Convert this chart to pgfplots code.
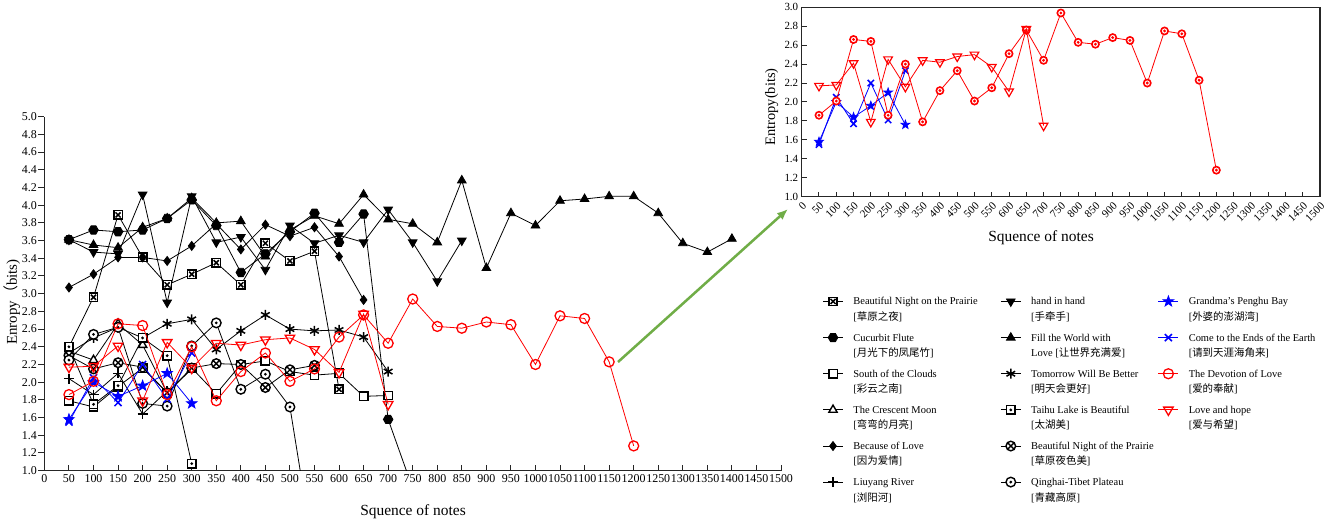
\documentclass[border=0pt]{standalone}
\usepackage{fontspec}
\setmainfont{Liberation Serif}
\newfontfamily\cjk{Noto Sans CJK SC}
\usepackage{pgfplots}
\usepackage{pgfplotstable}
\pgfplotsset{compat=1.18}
\usetikzlibrary{arrows.meta,plotmarks}
\newcommand\zh[1]{[{\cjk #1}]}
\newcommand\ent[3]{\parbox[t]{#1}{\raggedright\mbox{#2}\\ \mbox{#3}}}

\pgfdeclareplotmark{boxx}{%
  \pgfpathrectangle{\pgfqpoint{-\pgfplotmarksize}{-\pgfplotmarksize}}{\pgfqpoint{2\pgfplotmarksize}{2\pgfplotmarksize}}%
  \pgfusepathqfillstroke
  \pgfpathmoveto{\pgfqpoint{-0.6\pgfplotmarksize}{-0.6\pgfplotmarksize}}%
  \pgfpathlineto{\pgfqpoint{0.6\pgfplotmarksize}{0.6\pgfplotmarksize}}%
  \pgfpathmoveto{\pgfqpoint{-0.6\pgfplotmarksize}{0.6\pgfplotmarksize}}%
  \pgfpathlineto{\pgfqpoint{0.6\pgfplotmarksize}{-0.6\pgfplotmarksize}}%
  \pgfusepathqstroke}
\pgfdeclareplotmark{boxdot}{%
  \pgfpathrectangle{\pgfqpoint{-\pgfplotmarksize}{-\pgfplotmarksize}}{\pgfqpoint{2\pgfplotmarksize}{2\pgfplotmarksize}}%
  \pgfusepathqfillstroke
  \pgfpathcircle{\pgfpointorigin}{0.12\pgfplotmarksize}%
  \pgfusepathqstroke}
\pgfdeclareplotmark{odot}{%
  \pgfpathcircle{\pgfpointorigin}{\pgfplotmarksize}%
  \pgfusepathqfillstroke
  \pgfpathcircle{\pgfpointorigin}{0.12\pgfplotmarksize}%
  \pgfusepathqstroke}
\pgfdeclareplotmark{hexagon*}{%
  \pgfpathmoveto{\pgfqpointpolar{0}{\pgfplotmarksize}}%
  \pgfpathlineto{\pgfqpointpolar{60}{\pgfplotmarksize}}%
  \pgfpathlineto{\pgfqpointpolar{120}{\pgfplotmarksize}}%
  \pgfpathlineto{\pgfqpointpolar{180}{\pgfplotmarksize}}%
  \pgfpathlineto{\pgfqpointpolar{240}{\pgfplotmarksize}}%
  \pgfpathlineto{\pgfqpointpolar{300}{\pgfplotmarksize}}%
  \pgfpathclose\pgfusepathqfillstroke}
\pgfdeclareplotmark{fstar}{%
  \pgfpathmoveto{\pgfqpointpolar{90}{\pgfplotmarksize}}%
  \pgfpathlineto{\pgfqpointpolar{126}{0.4\pgfplotmarksize}}%
  \pgfpathlineto{\pgfqpointpolar{162}{\pgfplotmarksize}}%
  \pgfpathlineto{\pgfqpointpolar{198}{0.4\pgfplotmarksize}}%
  \pgfpathlineto{\pgfqpointpolar{234}{\pgfplotmarksize}}%
  \pgfpathlineto{\pgfqpointpolar{270}{0.4\pgfplotmarksize}}%
  \pgfpathlineto{\pgfqpointpolar{306}{\pgfplotmarksize}}%
  \pgfpathlineto{\pgfqpointpolar{342}{0.4\pgfplotmarksize}}%
  \pgfpathlineto{\pgfqpointpolar{18}{\pgfplotmarksize}}%
  \pgfpathlineto{\pgfqpointpolar{54}{0.4\pgfplotmarksize}}%
  \pgfpathclose\pgfusepathqfillstroke}

\pgfplotsset{
 sBNP/.style={black, line width=0.8bp, mark=boxx, mark size=4.2bp, mark options={solid, line width=1.5bp, fill=white}},
 sCF/.style={black, line width=0.8bp, mark=hexagon*, mark size=4.8bp, mark options={solid, fill=black}},
 sSC/.style={black, line width=0.8bp, mark=square*, mark size=4.2bp, mark options={solid, line width=1.4bp, fill=white}},
 sCM/.style={black, line width=0.8bp, mark=triangle*, mark size=4.8bp, mark options={solid, line width=1.4bp, fill=white}},
 sBL/.style={black, line width=0.8bp, mark=diamond*, mark size=4.5bp, mark options={solid, fill=black}},
 sLR/.style={black, line width=0.8bp, mark=+, mark size=5bp, mark options={solid, line width=1.5bp}},
 sHH/.style={black, line width=0.8bp, mark=triangle*, mark size=5bp, mark options={solid, fill=black, rotate=180}},
 sFW/.style={black, line width=0.8bp, mark=triangle*, mark size=5bp, mark options={solid, fill=black}},
 sTB/.style={black, line width=0.8bp, mark=asterisk, mark size=5bp, mark options={solid, line width=1.5bp}},
 sTL/.style={black, line width=0.8bp, mark=boxdot, mark size=4.2bp, mark options={solid, line width=1.5bp, fill=white}},
 sBN2/.style={black, line width=0.8bp, mark=otimes*, mark size=4.8bp, mark options={solid, line width=1.4bp, fill=white}},
 sQT/.style={black, line width=0.8bp, mark=odot, mark size=4.8bp, mark options={solid, line width=1.4bp, fill=white}},
 sGP/.style={blue, line width=0.8bp, mark=fstar, mark size=5.5bp, mark options={solid, fill=blue}},
 sCE/.style={blue, line width=0.8bp, mark=x, mark size=5bp, mark options={solid, line width=1.5bp}},
 sDL/.style={red, line width=0.8bp, mark=o, mark size=5bp, mark options={solid, line width=1.3bp}},
 sLH/.style={red, line width=0.8bp, mark=triangle, mark size=5.5bp, mark options={solid, line width=1.3bp, rotate=180}},
 iGP/.style={blue, line width=0.8bp, mark=fstar, mark size=4.5bp, mark options={solid, fill=blue}},
 iCE/.style={blue, line width=0.8bp, mark=x, mark size=4.5bp, mark options={solid, line width=1.5bp}},
 iDL/.style={red, line width=0.8bp, mark=odot, mark size=3.6bp, mark options={solid, line width=1.6bp, fill=white}},
 iLH/.style={red, line width=0.8bp, mark=triangle, mark size=5bp, mark options={solid, line width=1.2bp, rotate=180}},
}

\pgfplotstableread{
x y
50 2.40
100 2.96
150 3.89
200 3.41
250 3.10
300 3.22
350 3.35
400 3.10
450 3.57
500 3.37
550 3.48
600 1.92
}\tBNP
\pgfplotstableread{
x y
50 3.61
100 3.72
150 3.70
200 3.72
250 3.85
300 4.06
350 3.77
400 3.24
450 3.45
500 3.70
550 3.91
600 3.58
650 3.90
700 1.58
750 0.80
}\tCF
\pgfplotstableread{
x y
50 1.79
100 1.72
150 1.95
200 2.16
250 1.88
300 2.16
350 1.87
400 2.20
450 2.24
500 2.12
550 2.08
600 2.10
650 1.84
700 1.85
}\tSC
\pgfplotstableread{
x y
50 2.35
100 2.25
150 2.66
200 2.42
250 1.88
300 2.15
}\tCM
\pgfplotstableread{
x y
50 3.07
100 3.22
150 3.41
200 3.41
250 3.37
300 3.54
350 3.79
400 3.50
450 3.78
500 3.65
550 3.75
600 3.42
650 2.93
}\tBL
\pgfplotstableread{
x y
50 2.04
100 1.86
150 2.10
200 1.64
250 1.90
}\tLR
\pgfplotstableread{
x y
50 3.61
100 3.47
150 3.45
200 4.12
250 2.90
300 4.10
350 3.58
400 3.64
450 3.27
500 3.77
550 3.57
600 3.66
650 3.58
700 3.95
750 3.58
800 3.14
850 3.60
}\tHH
\pgfplotstableread{
x y
50 3.61
100 3.55
150 3.52
200 3.75
250 3.85
300 4.08
350 3.80
400 3.82
450 3.42
500 3.72
550 3.88
600 3.79
650 4.12
700 3.84
750 3.79
800 3.58
850 4.28
900 3.29
950 3.91
1000 3.77
1050 4.05
1100 4.07
1150 4.10
1200 4.10
1250 3.91
1300 3.57
1350 3.47
1400 3.62
}\tFW
\pgfplotstableread{
x y
50 2.33
100 2.50
150 2.62
200 2.50
250 2.66
300 2.71
350 2.37
400 2.58
450 2.76
500 2.60
550 2.58
600 2.59
650 2.51
700 2.12
}\tTB
\pgfplotstableread{
x y
50 2.40
100 1.75
150 1.96
200 2.50
250 2.30
300 1.08
}\tTL
\pgfplotstableread{
x y
50 2.30
100 2.15
150 2.22
200 2.17
250 1.88
300 2.16
350 2.21
400 2.20
450 1.94
500 2.14
550 2.19
}\tBNtwo
\pgfplotstableread{
x y
50 2.25
100 2.54
150 2.62
200 1.76
250 1.73
300 2.41
350 2.67
400 1.92
450 2.09
500 1.72
550 0.00
}\tQT
\pgfplotstableread{
x y
50 1.58
100 2.00
150 1.84
200 1.96
250 2.10
300 1.76
}\tGP
\pgfplotstableread{
x y
50 1.55
100 2.05
150 1.77
200 2.20
250 1.81
300 2.33
}\tCE
\pgfplotstableread{
x y
50 1.86
100 2.01
150 2.66
200 2.64
250 1.86
300 2.40
350 1.79
400 2.12
450 2.33
500 2.01
550 2.15
600 2.51
650 2.76
700 2.44
750 2.94
800 2.63
850 2.61
900 2.68
950 2.65
1000 2.20
1050 2.75
1100 2.72
1150 2.23
1200 1.28
}\tDL
\pgfplotstableread{
x y
50 2.17
100 2.18
150 2.41
200 1.79
250 2.45
300 2.16
350 2.44
400 2.42
450 2.48
500 2.50
550 2.37
600 2.11
650 2.77
700 1.75
}\tLH

\begin{document}
\begin{tikzpicture}[x=1bp,y=1bp]
\path[use as bounding box] (0,0) rectangle (1325,525);

% ---------------- main axis ----------------
\begin{axis}[
  at={(44.4bp,54.3bp)}, anchor=south west,
  scale only axis, width=736.6bp, height=354bp,
  xmin=0, xmax=1500, ymin=1, ymax=5,
  axis x line*=bottom, axis y line*=left,
  axis line style={line width=1.2bp, black!85},
  xtick={0,50,...,1500},
  ytick={1.0,1.2,1.4,1.6,1.8,2.0,2.2,2.4,2.6,2.8,3.0,3.2,3.4,3.6,3.8,4.0,4.2,4.4,4.6,4.8,5.0},
  /pgf/number format/assume math mode=true,
  xticklabel style={/pgf/number format/1000 sep={}},
  yticklabel style={xshift=-4bp, /pgf/number format/fixed, /pgf/number format/fixed zerofill, /pgf/number format/precision=1},
  tick label style={font=\fontsize{12}{12}\selectfont},
  tick align=inside,
  major tick length=6bp,
  tick style={line width=1bp, black!85},
  y tick style={xshift=-6bp},
  clip mode=individual,
  legend columns=3,
  legend image code/.code={\draw[mark repeat=2,mark phase=2,#1] plot coordinates {(0bp,3.5bp) (10bp,3.5bp) (20bp,3.5bp)};},
  legend style={at={(1.0562,0.4952)}, anchor=north west, draw=none, fill=none,
    inner sep=0pt, font=\fontsize{10.5}{15.5}\selectfont,
    cells={anchor=base west}, row sep=23.3bp,
    /tikz/every odd column/.style={column sep=8bp},
    /tikz/every even column/.style={column sep=6.5bp}},
]
\addplot[sBNP, forget plot] table {\tBNP};
\addplot[sCF, forget plot] table {\tCF};
\addplot[sSC, forget plot] table {\tSC};
\addplot[sCM, forget plot] table {\tCM};
\addplot[sBL, forget plot] table {\tBL};
\addplot[sLR, forget plot] table {\tLR};
\addplot[sHH, forget plot] table {\tHH};
\addplot[sFW, forget plot] table {\tFW};
\addplot[sTB, forget plot] table {\tTB};
\addplot[sTL, forget plot] table {\tTL};
\addplot[sBN2, forget plot] table {\tBNtwo};
\addplot[sQT, forget plot] table {\tQT};
\addplot[sGP, forget plot] table {\tGP};
\addplot[sCE, forget plot] table {\tCE};
\addplot[sDL, forget plot] table {\tDL};
\addplot[sLH, forget plot] table {\tLH};

\addlegendimage{sBNP}\addlegendentry{\ent{138.5bp}{Beautiful Night on the Prairie}{\zh{草原之夜}}}
\addlegendimage{sHH}\addlegendentry{\ent{118.3bp}{hand in hand}{\zh{手牵手}}}
\addlegendimage{sGP}\addlegendentry{\ent{130bp}{Grandma’s Penghu Bay}{\zh{外婆的澎湖湾}}}
\addlegendimage{sCF}\addlegendentry{\ent{138.5bp}{Cucurbit Flute}{\zh{月光下的凤尾竹}}}
\addlegendimage{sFW}\addlegendentry{\ent{118.3bp}{Fill the World with}{Love \zh{让世界充满爱}}}
\addlegendimage{sCE}\addlegendentry{\ent{130bp}{Come to the Ends of the Earth}{\zh{请到天涯海角来}}}
\addlegendimage{sSC}\addlegendentry{\ent{138.5bp}{South of the Clouds}{\zh{彩云之南}}}
\addlegendimage{sTB}\addlegendentry{\ent{118.3bp}{Tomorrow Will Be Better}{\zh{明天会更好}}}
\addlegendimage{sDL}\addlegendentry{\ent{130bp}{The Devotion of Love}{\zh{爱的奉献}}}
\addlegendimage{sCM}\addlegendentry{\ent{138.5bp}{The Crescent Moon}{\zh{弯弯的月亮}}}
\addlegendimage{sTL}\addlegendentry{\ent{118.3bp}{Taihu Lake is Beautiful}{\zh{太湖美}}}
\addlegendimage{sLH}\addlegendentry{\ent{130bp}{Love and hope}{\zh{爱与希望}}}
\addlegendimage{sBL}\addlegendentry{\ent{138.5bp}{Because of Love}{\zh{因为爱情}}}
\addlegendimage{sBN2}\addlegendentry{\ent{118.3bp}{Beautiful Night of the Prairie}{\zh{草原夜色美}}}
\addlegendimage{empty legend}\addlegendentry{}
\addlegendimage{sLR}\addlegendentry{\ent{138.5bp}{Liuyang River}{\zh{浏阳河}}}
\addlegendimage{sQT}\addlegendentry{\ent{118.3bp}{Qinghai-Tibet Plateau}{\zh{青藏高原}}}
\addlegendimage{empty legend}\addlegendentry{}
\end{axis}

% ---------------- inset axis ----------------
\begin{axis}[
  at={(801.7bp,328.3bp)}, anchor=south west,
  scale only axis, width=518.3bp, height=189.4bp,
  xmin=0, xmax=1500, ymin=1, ymax=3,
  axis line style={line width=1.2bp, black!85},
  xtick={0,50,...,1500},
  ytick={1.0,1.2,1.4,1.6,1.8,2.0,2.2,2.4,2.6,2.8,3.0},
  xtick pos=left, ytick pos=left, tick align=inside,
  major tick length=5bp,
  tick style={line width=1bp, black!85},
  /pgf/number format/assume math mode=true,
  xticklabel style={rotate=45, anchor=north east, /pgf/number format/1000 sep={}},
  yticklabel style={/pgf/number format/fixed, /pgf/number format/fixed zerofill, /pgf/number format/precision=1},
  tick label style={font=\fontsize{11}{11}\selectfont},
  clip mode=individual,
]
\addplot[iGP] table {\tGP};
\addplot[iCE] table {\tCE};
\addplot[iDL] table {\tDL};
\addplot[iLH] table {\tLH};
\end{axis}

% ---------------- labels and arrow ----------------
\node[rotate=90, font=\fontsize{15}{15}\selectfont] at (12,223) {Enropy{\cjk （}bits)};
\node[font=\fontsize{15.5}{15.5}\selectfont] at (413,13) {Squence of notes};
\node[rotate=90, font=\fontsize{14.5}{14.5}\selectfont] at (771.7,418) {Entropy(bits)};
\node[font=\fontsize{15.5}{15.5}\selectfont] at (1041,287) {Squence of notes};
\draw[-{Latex[length=11bp,width=9bp]}, line width=2.5bp, color={rgb,255:red,112;green,173;blue,71}] (618,163) -- (788,316);
\end{tikzpicture}
\end{document}
